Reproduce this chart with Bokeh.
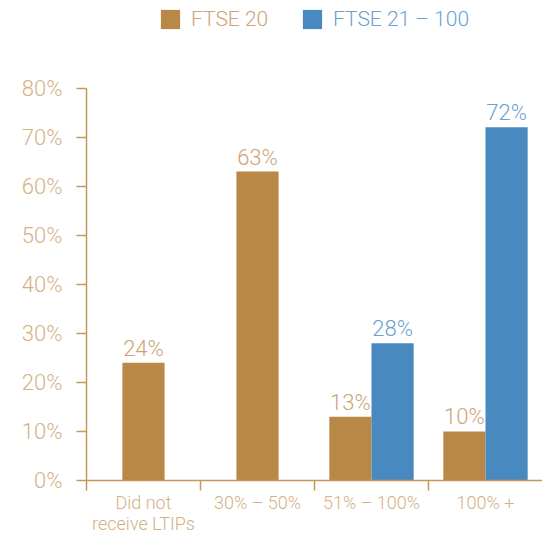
from bokeh.plotting import figure
from bokeh.models import ColumnDataSource, Range1d, FixedTicker, Legend, LegendItem, LabelSet
from bokeh.embed import file_html
from bokeh.resources import INLINE
from bokeh.core.properties import value

# ---- data ----
categories = ["Did not\nreceive LTIPs", "30% – 50%", "51% – 100%", "100% +"]
series_names = ["FTSE 20", "FTSE 21 – 100"]
ftse20 = [24, 63, 13, 10]
ftse21_100 = [None, None, 28, 72]
y_ticks = [0, 10, 20, 30, 40, 50, 60, 70, 80]
y_tick_labels = ["0%", "10%", "20%", "30%", "40%", "50%", "60%", "70%", "80%"]

# ---- styles ----
bar_colors = ["#B98746", "#4889BF"]
text_colors = ["#CDA475", "#6C9FD0"]
axis_color = "#C8965A"
tick_label_color = "#D4B186"
FONT = "Roboto Light"
BAR_W = 0.37

n = len(categories)
centers = [i + 0.5 for i in range(n)]


def positions(a_vals, b_vals):
    xa, xb = [], []
    for i, (a, b) in enumerate(zip(a_vals, b_vals)):
        c = centers[i]
        if a is not None and b is not None:
            xa.append(c - BAR_W / 2)
            xb.append(c + BAR_W / 2)
        else:
            xa.append(c)
            xb.append(c)
    return xa, xb


xa, xb = positions(ftse20, ftse21_100)


def make_source(xs, vals):
    d = {"x": [], "y": [], "label": []}
    for x, v in zip(xs, vals):
        if v is None:
            continue
        d["x"].append(x)
        d["y"].append(v)
        d["label"].append(f"{v}%")
    return ColumnDataSource(d)


s1 = make_source(xa, ftse20)
s2 = make_source(xb, ftse21_100)

# ---- layout ----
W, H = 542, 536
LEFT, BOTTOM = 86, 54
AXIS_TOP_PX = 88            # pixel row (from top) where the 80% tick sits
frame_h = H - BOTTOM
y_max = y_ticks[-1]
y_end = y_max * frame_h / (frame_h - AXIS_TOP_PX)   # headroom for the legend

p = figure(width=W, height=H, output_backend="svg", toolbar_location=None,
           x_range=Range1d(0, n), y_range=Range1d(0, y_end),
           min_border_left=LEFT, min_border_top=0, min_border_right=0,
           min_border_bottom=BOTTOM)
p.outline_line_color = None
p.grid.visible = False
p.background_fill_color = "white"
p.border_fill_color = "white"

r1 = p.vbar(x="x", top="y", width=BAR_W, source=s1, fill_color=bar_colors[0], line_color=None)
r2 = p.vbar(x="x", top="y", width=BAR_W, source=s2, fill_color=bar_colors[1], line_color=None)

for src, col in ((s1, text_colors[0]), (s2, text_colors[1])):
    p.add_layout(LabelSet(x="x", y="y", text="label", source=src, y_offset=7,
                          text_align="center", text_baseline="alphabetic",
                          text_font=value(FONT), text_font_size=value("22px"),
                          text_color=value(col)))

# x axis (labels at category centres, tick marks at category boundaries)
xa_ = p.xaxis[0]
xa_.ticker = FixedTicker(ticks=centers, minor_ticks=list(range(n)))
xa_.major_label_overrides = {c: lab for c, lab in zip(centers, categories)}
xa_.major_label_text_font = FONT
xa_.major_label_text_font_size = "18px"
xa_.major_label_text_line_height = 1.0
xa_.major_label_text_color = tick_label_color
xa_.major_label_standoff = 1
xa_.axis_line_color = axis_color
xa_.axis_line_width = 1.5
xa_.major_tick_line_color = None
xa_.major_tick_out = 10
xa_.major_tick_in = 0
xa_.minor_tick_line_color = axis_color
xa_.minor_tick_line_width = 1.5
xa_.minor_tick_out = 10
xa_.minor_tick_in = 0

# y axis (drawn only from 0% to 80%)
ya = p.yaxis[0]
ya.bounds = (0, y_max)
ya.ticker = FixedTicker(ticks=y_ticks, minor_ticks=[])
ya.major_label_overrides = {t: lab for t, lab in zip(y_ticks, y_tick_labels)}
ya.axis_line_color = axis_color
ya.axis_line_width = 1.5
ya.major_tick_line_color = axis_color
ya.major_tick_line_width = 1.5
ya.major_tick_out = 10
ya.major_tick_in = 0
ya.minor_tick_line_color = None
ya.major_label_standoff = 14
ya.major_label_text_color = tick_label_color
ya.major_label_text_font = FONT
ya.major_label_text_font_size = "22px"

# legends (one per series so each label keeps its own colour)
leg_top = 9
for name, r, col, lx in ((series_names[0], r1, text_colors[0], 72),
                         (series_names[1], r2, text_colors[1], 214)):
    leg = Legend(items=[LegendItem(label=name, renderers=[r])],
                 location=(lx, frame_h - leg_top - 24),
                 orientation="horizontal", glyph_width=24, glyph_height=24,
                 label_standoff=9, padding=0, margin=0, border_line_color=None,
                 background_fill_alpha=0, label_text_color=col,
                 label_text_font=FONT, label_text_font_size="21px")
    p.add_layout(leg)

open("out.html", "w").write(file_html(p, INLINE))
